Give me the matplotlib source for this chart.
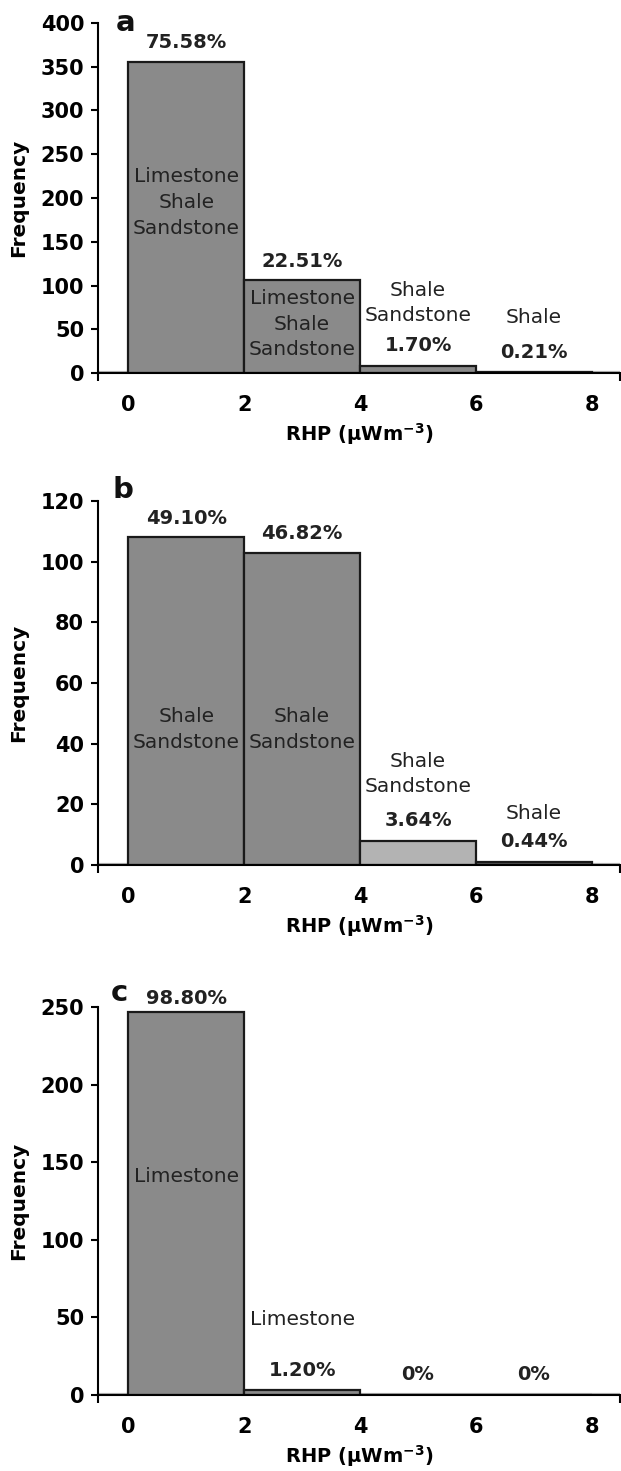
import numpy as np
import matplotlib.pyplot as plt

plt.rcParams['font.family'] = ['DejaVu Sans']
plt.rcParams['mathtext.default'] = 'regular'

# bin left edges of RHP (uWm-3), bin width 2
bin_edges = [0, 2, 4, 6]
bin_width = 2

# panel a
freq_a = [355, 106, 8, 1]
pct_a = ['75.58%', '22.51%', '1.70%', '0.21%']
rock_a = ['Limestone\nShale\nSandstone', 'Limestone\nShale\nSandstone', 'Shale\nSandstone', 'Shale']

# panel b
freq_b = [108, 103, 8, 1]
pct_b = ['49.10%', '46.82%', '3.64%', '0.44%']
rock_b = ['Shale\nSandstone', 'Shale\nSandstone', 'Shale\nSandstone', 'Shale']

# panel c
freq_c = [247, 3, 0, 0]
pct_c = ['98.80%', '1.20%', '0%', '0%']
rock_c = ['Limestone', 'Limestone', '', '']

xticks = [0, 2, 4, 6, 8]
yticks_a = np.arange(0, 401, 50)
yticks_b = np.arange(0, 121, 20)
yticks_c = np.arange(0, 251, 50)

GRAY = '#8a8a8a'
colors_a = [GRAY, GRAY, GRAY, GRAY]
colors_b = [GRAY, GRAY, '#b3b3b3', '#5a5a5a']
colors_c = [GRAY, GRAY, GRAY, GRAY]

fig = plt.figure(figsize=(6.21, 14.71), dpi=100)

panels = [
    # letter, axes rect, freq, colors, pct, rocks, yticks, pct label y, rock label y, letter xy
    ('a', [0.158, 0.7464, 0.840, 0.2380], freq_a, colors_a, pct_a, rock_a, yticks_a,
     [378, 128, 31, 23.5], [195, 56, 80, 63], (-0.05, 400)),
    ('b', [0.158, 0.4120, 0.840, 0.2474], freq_b, colors_b, pct_b, rock_b, yticks_b,
     [114.3, 109.3, 14.7, 7.7], [44.7, 44.7, 30, 16.9], (-0.09, 123.5)),
    ('c', [0.158, 0.0517, 0.840, 0.2637], freq_c, colors_c, pct_c, rock_c, yticks_c,
     [255.7, 15.6, 12.9, 12.9], [141, 48.4, 0, 0], (-0.15, 259)),
]

for letter, rect, freq, cols, pct, rocks, yt, pct_y, rock_y, lxy in panels:
    ax = fig.add_axes(rect)
    ax.axhline(0, color='#b0b0b0', lw=3, zorder=1)
    ax.bar(bin_edges, freq, width=bin_width, align='edge', color=cols,
           edgecolor='#1a1a1a', linewidth=1.6, zorder=2)
    ax.set_xlim(-0.52, 8.48)
    ax.set_ylim(0, yt[-1])
    ax.set_yticks(yt)
    ax.set_xticks(xticks)
    ax.set_xticks([-0.52, 8.48], minor=True)
    ax.tick_params(axis='x', which='major', length=0, pad=16, labelsize=15)
    ax.tick_params(axis='x', which='minor', length=6, width=1.5, direction='out')
    ax.tick_params(axis='y', length=5, width=1.5, direction='out', pad=5, labelsize=15)
    for lab in ax.get_xticklabels() + ax.get_yticklabels():
        lab.set_fontweight('bold')
    for s in ['top', 'right']:
        ax.spines[s].set_visible(False)
    ax.spines['left'].set_linewidth(1.5)
    ax.spines['bottom'].set_linewidth(1.5)
    ax.set_ylabel('Frequency', fontsize=14.5, fontweight='bold')
    ax.yaxis.set_label_coords(-0.135, 0.5)
    ax.set_xlabel(r'RHP ($\mu$Wm$^{\mathbf{-3}}$)', fontsize=14, fontweight='bold', labelpad=4)

    centers = [e + bin_width / 2 for e in bin_edges]
    for xc, p, py in zip(centers, pct, pct_y):
        ax.text(xc, py, p, ha='center', va='center', fontsize=14, fontweight='bold',
                color='#222222', zorder=3)
    for xc, r, ry in zip(centers, rocks, rock_y):
        if r:
            ax.text(xc, ry, r, ha='center', va='center', fontsize=14.5,
                    color='#222222', linespacing=1.45, zorder=3)
    ax.text(lxy[0], lxy[1], letter, ha='center', va='center', fontsize=21,
            fontweight='heavy', color='#111111', clip_on=False)

fig.savefig('out.png', dpi=100)
